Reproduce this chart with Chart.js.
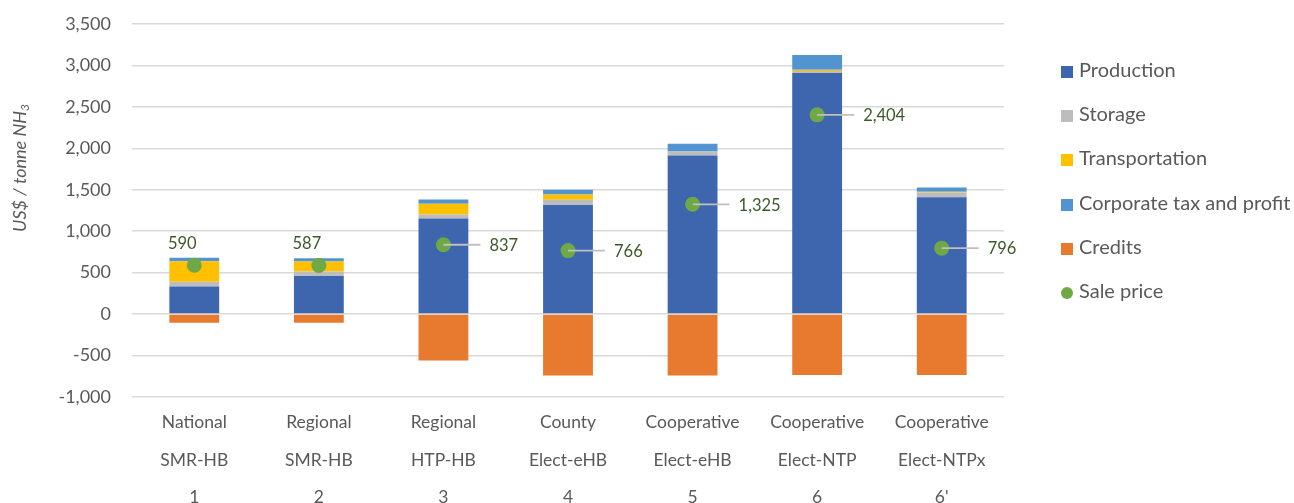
<!DOCTYPE html>
<html>
<head>
<meta charset="utf-8">
<script src="https://cdn.jsdelivr.net/npm/chart.js@4.4.1/dist/chart.umd.min.js"></script>
<style>
  body { margin: 0; background: #fff; }
  #wrap { position: relative; width: 1294px; height: 503px; }
  #legend { position: absolute; left: 1061px; top: 47px; font-family: Lato, sans-serif; font-size: 20px; color: #595959; }
  #legend div { height: 44.2px; line-height: 44.2px; white-space: nowrap; }
  #legend span.sw { display: inline-block; width: 12px; height: 12px; margin-right: 6px; vertical-align: -1px; }
</style>
</head>
<body>
<div id="wrap">
  <canvas id="myChart"></canvas>
  <div id="legend"></div>
</div>
<script>
// category labels, three lines each
var sizeLine = ['National', 'Regional', 'Regional', 'County', 'Cooperative', 'Cooperative', 'Cooperative'];
var techLine = ['SMR-HB', 'SMR-HB', 'HTP-HB', 'Elect-eHB', 'Elect-eHB', 'Elect-NTP', 'Elect-NTPx'];
var caseLine = ['1', '2', '3', '4', '5', '6', "6'"];

// cost components, US$ per tonne NH3
var production = [332, 461, 1154, 1315, 1915, 2909, 1411];
var storage = [57, 52, 48, 65, 48, 25, 57];
var transportation = [249, 121, 129, 64, 0, 15, 8];
var corporate = [41, 40, 52, 56, 93, 178, 50];
var credits = [-105, -105, -560, -740, -740, -735, -735];
var salePrice = [590, 587, 837, 766, 1325, 2404, 796];

var yTicks = [-1000, -500, 0, 500, 1000, 1500, 2000, 2500, 3000, 3500];

var labels = [];
for (var i = 0; i < sizeLine.length; i++) {
	labels.push([sizeLine[i], techLine[i], caseLine[i]]);
}

function fmt(v) {
	return v.toLocaleString('en-US');
}

// sale price numbers with leader lines
var priceLabels = {
	id: 'priceLabels',
	afterDatasetsDraw: function(chart) {
		var ctx = chart.ctx;
		var meta = chart.getDatasetMeta(5);
		ctx.save();
		ctx.font = '16.5px Lato, sans-serif';
		ctx.fillStyle = '#3b5a27';
		meta.data.forEach(function(pt, i) {
			var text = fmt(salePrice[i]);
			if (i < 2) {
				ctx.textAlign = 'center';
				ctx.textBaseline = 'middle';
				ctx.fillText(text, pt.x - 12, pt.y - 22);
			} else {
				ctx.strokeStyle = '#bfbfbf';
				ctx.lineWidth = 1.8;
				ctx.beginPath();
				ctx.moveTo(pt.x, pt.y);
				ctx.lineTo(pt.x + 37, pt.y);
				ctx.stroke();
				ctx.textAlign = 'left';
				ctx.textBaseline = 'middle';
				ctx.fillText(text, pt.x + 46, pt.y + 1);
			}
		});
		ctx.restore();
	}
};

// rotated axis title with a subscript 3
var axisTitle = {
	id: 'axisTitle',
	afterDraw: function(chart) {
		var ctx = chart.ctx;
		ctx.save();
		ctx.translate(20, 168);
		ctx.rotate(-Math.PI / 2);
		ctx.fillStyle = '#595959';
		ctx.textBaseline = 'middle';
		ctx.font = 'italic 18px Lato, sans-serif';
		var main = 'US$ / tonne NH';
		var w = ctx.measureText(main).width;
		ctx.font = 'italic 12px Lato, sans-serif';
		var w3 = ctx.measureText('3').width;
		var x0 = -(w + w3) / 2;
		ctx.font = 'italic 18px Lato, sans-serif';
		ctx.textAlign = 'left';
		ctx.fillText(main, x0, 0);
		ctx.font = 'italic 12px Lato, sans-serif';
		ctx.fillText('3', x0 + w, 5);
		ctx.restore();
	}
};

var ctx = document.getElementById('myChart').getContext('2d');
var chart = new Chart(ctx, {
	type: 'bar',
	data: {
		labels: labels,
		datasets: [
			{ label: 'Production', data: production, backgroundColor: '#3e66ae', stack: 'cost', order: 1 },
			{ label: 'Storage', data: storage, backgroundColor: '#bdbdbd', stack: 'cost', order: 1 },
			{ label: 'Transportation', data: transportation, backgroundColor: '#ffc000', stack: 'cost', order: 1 },
			{ label: 'Corporate tax and profit', data: corporate, backgroundColor: '#5294d1', stack: 'cost', order: 1 },
			{ label: 'Credits', data: credits, backgroundColor: '#e87a30', stack: 'cost', order: 1 },
			{
				label: 'Sale price', type: 'line', data: salePrice, stack: 'price', order: 0,
				showLine: false, pointRadius: 7.5, pointBackgroundColor: '#6ea946',
				pointBorderWidth: 0, borderColor: '#6ea946', backgroundColor: '#6ea946'
			}
		]
	},
	options: {
		responsive: true,
		maintainAspectRatio: false,
		animation: false,
		layout: { padding: { left: 0, top: 24, right: 290, bottom: 0 } },
		datasets: { bar: { barPercentage: 0.4, categoryPercentage: 1 } },
		plugins: {
			legend: { display: false },
			tooltip: { enabled: false }
		},
		scales: {
			x: {
				stacked: true,
				grid: { display: false },
				border: { display: false },
				ticks: {
					color: '#595959',
					font: { family: 'Lato, sans-serif', size: 17.5, lineHeight: 2.14 },
					padding: -1,
					maxRotation: 0,
					autoSkip: false
				},
				afterFit: function(scale) { scale.height = 106; }
			},
			y: {
				stacked: true,
				min: -1000,
				max: 3500,
				afterBuildTicks: function(scale) {
					scale.ticks = yTicks.map(function(v) { return { value: v }; });
				},
				grid: { color: '#d9d9d9', lineWidth: 1.5, drawTicks: false },
				border: { display: false },
				ticks: {
					color: '#595959',
					font: { family: 'Lato, sans-serif', size: 18 },
					padding: 21,
					callback: function(v) { return fmt(v); }
				},
				afterFit: function(scale) {
					scale.width = 132;
					// tick padding should not push the plot down
					scale.paddingTop = 0;
					scale.paddingBottom = 0;
				}
			}
		}
	},
	plugins: [priceLabels, axisTitle]
});

// legend built from the chart's datasets
var legend = document.getElementById('legend');
chart.data.datasets.forEach(function(ds) {
	var row = document.createElement('div');
	var sw = document.createElement('span');
	sw.className = 'sw';
	sw.style.background = ds.type === 'line' ? ds.pointBackgroundColor : ds.backgroundColor;
	if (ds.type === 'line') sw.style.borderRadius = '50%';
	row.appendChild(sw);
	row.appendChild(document.createTextNode(ds.label));
	legend.appendChild(row);
});
</script>
</body>
</html>
